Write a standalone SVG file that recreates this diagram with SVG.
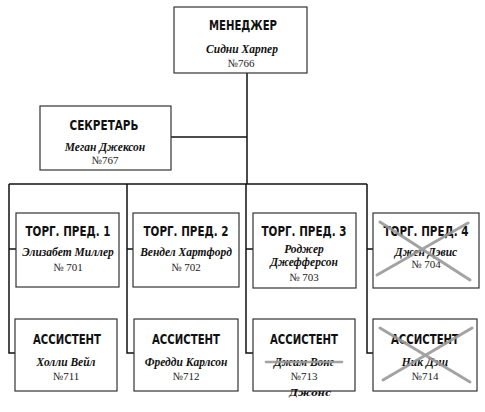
<svg xmlns="http://www.w3.org/2000/svg" width="485" height="412" viewBox="0 0 485 412">
<style>
.box{fill:#fff;stroke:#333;stroke-width:1.2}
.ln{fill:none;stroke:#111;stroke-width:1.5}
.t{font-family:"DejaVu Sans","Liberation Sans",sans-serif;font-weight:bold;font-size:13.5px;text-anchor:middle;fill:#111}
.n{font-family:"Liberation Serif","DejaVu Serif",serif;font-weight:bold;font-style:italic;font-size:11.5px;text-anchor:middle;fill:#111}
.num{font-family:"Liberation Serif","DejaVu Serif",serif;font-size:11px;text-anchor:middle;fill:#222}
.x{stroke:#9a9a9a;stroke-width:3;stroke-linecap:round;opacity:0.9}
</style>
<rect width="485" height="412" fill="#fff"/>
<g id="connectors">
<path class="ln" d="M247 73V184"/>
<path class="ln" d="M171 137H247"/>
<path class="ln" d="M9 184H367"/>
<path class="ln" d="M9 184V353H15M9 249H16"/>
<path class="ln" d="M127 184V353H134M127 249H133"/>
<path class="ln" d="M246 184V353H253M246 249H253"/>
<path class="ln" d="M367 184V353H373M367 249H373"/>
</g>
<g id="manager">
<rect class="box" x="174" y="7" width="133" height="66"/>
<text class="t" x="243" y="30" textLength="68" lengthAdjust="spacingAndGlyphs">МЕНЕДЖЕР</text>
<text class="n" x="242" y="53">Сидни Харпер</text>
<text class="num" x="241" y="67">№766</text>
</g>
<g id="secretary">
<rect class="box" x="40" y="106" width="131" height="64"/>
<text class="t" x="104" y="130" textLength="69" lengthAdjust="spacingAndGlyphs">СЕКРЕТАРЬ</text>
<text class="n" x="105" y="151">Меган Джексон</text>
<text class="num" x="105" y="164">№767</text>
</g>
<g id="rep1">
<rect class="box" x="16" y="213" width="103" height="74"/>
<text class="t" x="68" y="236" textLength="85" lengthAdjust="spacingAndGlyphs">ТОРГ. ПРЕД. 1</text>
<text class="n" x="68" y="256">Элизабет Миллер</text>
<text class="num" x="68" y="271">№ 701</text>
</g>
<g id="rep2">
<rect class="box" x="133" y="213" width="106" height="74"/>
<text class="t" x="186" y="236" textLength="85" lengthAdjust="spacingAndGlyphs">ТОРГ. ПРЕД. 2</text>
<text class="n" x="186" y="256">Вендел Хартфорд</text>
<text class="num" x="186" y="271">№ 702</text>
</g>
<g id="rep3">
<rect class="box" x="253" y="213" width="103" height="75"/>
<text class="t" x="304" y="236" textLength="85" lengthAdjust="spacingAndGlyphs">ТОРГ. ПРЕД. 3</text>
<text class="n" x="304" y="253">Роджер</text>
<text class="n" x="304" y="266">Джефферсон</text>
<text class="num" x="304" y="281">№ 703</text>
</g>
<g id="rep4">
<rect class="box" x="373" y="213" width="106" height="75"/>
<text class="t" x="426" y="236" textLength="85" lengthAdjust="spacingAndGlyphs">ТОРГ. ПРЕД. 4</text>
<text class="n" x="426" y="256">Джен Дэвис</text>
<text class="num" x="426" y="268">№ 704</text>
<path class="x" d="M380 222L470 280M377 275L468 223"/>
</g>
<g id="asst1">
<rect class="box" x="15" y="319" width="102" height="72"/>
<text class="t" x="67" y="344" textLength="68" lengthAdjust="spacingAndGlyphs">АССИСТЕНТ</text>
<text class="n" x="66" y="366">Холли Вейл</text>
<text class="num" x="66" y="380">№711</text>
</g>
<g id="asst2">
<rect class="box" x="134" y="319" width="104" height="72"/>
<text class="t" x="186" y="344" textLength="68" lengthAdjust="spacingAndGlyphs">АССИСТЕНТ</text>
<text class="n" x="186" y="366">Фредди Карлсон</text>
<text class="num" x="186" y="380">№712</text>
</g>
<g id="asst3">
<rect class="box" x="253" y="319" width="102" height="72"/>
<text class="t" x="304" y="344" textLength="68" lengthAdjust="spacingAndGlyphs">АССИСТЕНТ</text>
<text class="n" x="304" y="366">Джим Вонг</text>
<path class="x" d="M266 362H342" style="stroke-width:2.5"/>
<text class="num" x="304" y="380">№713</text>
<text x="310" y="396" style="font-family:'DejaVu Serif',serif;font-weight:bold;font-style:italic;font-size:10px;text-anchor:middle;fill:#111">Джонс</text>
</g>
<g id="asst4">
<rect class="box" x="373" y="319" width="104" height="72"/>
<text class="t" x="425" y="344" textLength="68" lengthAdjust="spacingAndGlyphs">АССИСТЕНТ</text>
<text class="n" x="425" y="366">Ник Дэш</text>
<text class="num" x="425" y="380">№714</text>
<path class="x" d="M380 328L470 382M383 380L472 328"/>
</g>
</svg>
